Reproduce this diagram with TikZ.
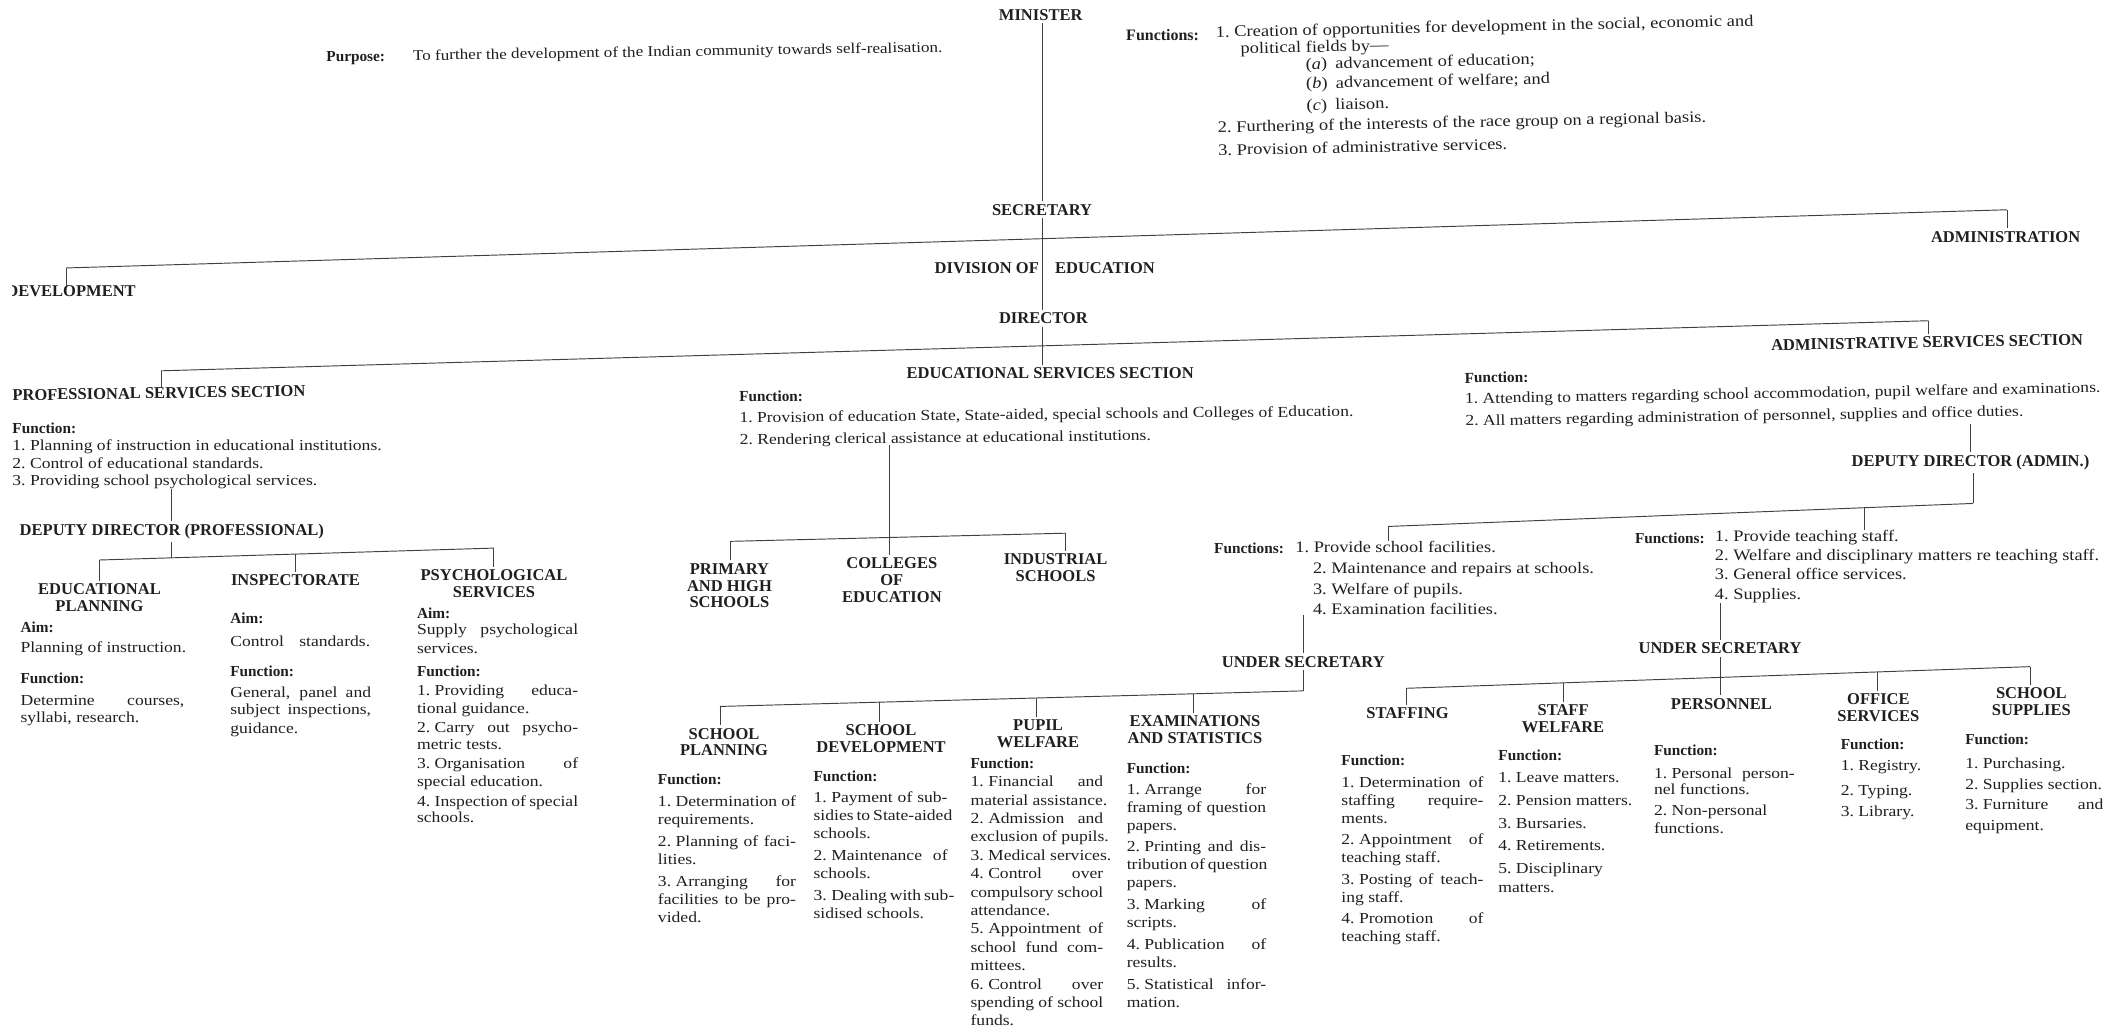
\documentclass[tikz,border=0pt]{standalone}
\usepackage{fontspec}
\setmainfont{Liberation Serif}[FakeStretch=1.15]
\newfontfamily\plainrm{Liberation Serif}
\newcommand\flab[1]{{\plainrm\bfseries #1}}
\newcommand\J[1]{\makebox[\colw][s]{#1}}
\newcommand\nm[1]{#1.\kern3.3pt}
\def\colw{100pt}
\tikzset{
  hd/.style={font=\plainrm\bfseries\fontsize{12.2}{12.5}\selectfont, inner sep=2pt, align=center, text=black!88},
  blk/.style={font=\fontsize{11.3}{13.3}\selectfont, inner sep=0pt, align=left, anchor=north west, text=black!88},
  cw/.style={execute at begin node={\def\colw{#1pt}}},
  lbl/.style={font=\plainrm\bfseries\fontsize{11.3}{13}\selectfont, inner sep=0pt, anchor=west, text=black!88},
  ln/.style={draw=black!75, line width=0.7pt}
}
\begin{document}
\begin{tikzpicture}[x=1pt,y=-1pt]
\useasboundingbox (0,0) rectangle (1568,759);
\clip (0,0) rectangle (1568,759);

% ---------- top ----------
\node[hd] (min) at (769,11) {MINISTER};
\node[lbl] (purl) at (241,43) {Purpose:};
\node[blk, anchor=west, font=\fontsize{11}{13}\selectfont, rotate=0.9] (purt) at (305,42) {To further the development of the Indian community towards self-realisation.};
\node[lbl, font=\plainrm\bfseries\fontsize{11.8}{13}\selectfont] (flab) at (832,26) {Functions:};
\node[blk, font=\fontsize{11.9}{12.5}\selectfont, rotate=1.2] (fl) at (898,19) {1.\ Creation of opportunities for development in the social, economic and\\
\hspace*{18pt}political fields by—\\
\hspace*{66pt}(\textit{a})\enspace advancement of education;\\[1.9pt]
\hspace*{66pt}(\textit{b})\enspace advancement of welfare; and\\[3.5pt]
\hspace*{66pt}(\textit{c})\enspace liaison.\\[2.5pt]
2.\ Furthering of the interests of the race group on a regional basis.\\[4.5pt]
3.\ Provision of administrative services.};

\node[hd] (sec) at (770,155) {SECRETARY};
\draw[ln] (min.south -| sec.north) -- (sec.north);

\coordinate (b1L) at (49,198);
\coordinate (b1R) at (1483,155);
\coordinate (b1C) at (770,176.4);
\draw[ln] (b1L) -- (b1R);
\draw[ln] (sec.south) -- (b1C);

\begin{scope}
\clip (9.5,190) rectangle (130,235);
\node[hd, anchor=west, inner sep=0pt] (dev) at (4.5,215.5) {DEVELOPMENT};
\end{scope}
\draw[ln] (b1L) -- (b1L |- dev.north);

\node[hd] (adm) at (1482,175) {ADMINISTRATION};
\draw[ln] (b1R) -- (b1R |- adm.north);

\node[hd] (div) at (772,198) {DIVISION OF\hspace{12pt}EDUCATION};
\node[hd] (dir) at (771,235) {DIRECTOR};
\draw[ln] (b1C) -- (b1C |- dir.north);

\coordinate (b2L) at (119,274);
\coordinate (b2R) at (1425,237);
\coordinate (b2C) at (770,255.6);
\draw[ln] (b2L) -- (b2R);
\draw[ln] (dir.south -| b2C) -- (b2C);

\node[hd] (ess) at (776,276) {EDUCATIONAL SERVICES SECTION};
\draw[ln] (b2C) -- (b2C |- ess.north);
\node[hd, anchor=west, inner sep=0pt, rotate=0.8] (pss) at (9,292) {PROFESSIONAL SERVICES SECTION};
\draw[ln] (b2L) -- (b2L |- pss.north);
\node[hd, rotate=1] (ass) at (1424,253) {ADMINISTRATIVE SERVICES SECTION};
\draw[ln] (b2R) -- (b2R |- ass.north);

% ---------- professional services ----------
\node[blk, font=\fontsize{11.3}{13}\selectfont] (pssF) at (9,312) {\flab{Function:}\\
1.\ Planning of instruction in educational institutions.\\
2.\ Control of educational standards.\\
3.\ Providing school psychological services.};
\node[hd] (ddp) at (127,393) {DEPUTY DIRECTOR (PROFESSIONAL)};
\draw[ln] (pssF.south -| ddp.north) -- (ddp.north);

\coordinate (b3L) at (73.5,413.8);
\coordinate (b3R) at (365,405);
\coordinate (b3C) at (127,412.2);
\coordinate (b3M) at (218.3,409.4);
\draw[ln] (b3L) -- (b3R);
\draw[ln] (ddp.south -| b3C) -- (b3C);
\node[hd, anchor=north] (ep) at (73.5,429) {EDUCATIONAL\\PLANNING};
\node[hd, anchor=north] (insp) at (218.3,422.6) {INSPECTORATE};
\node[hd, anchor=north] (psy) at (365,419) {PSYCHOLOGICAL\\SERVICES};
\draw[ln] (b3L) -- (b3L |- ep.north);
\draw[ln] (b3M) -- (b3M |- insp.north);
\draw[ln] (b3R) -- (b3R |- psy.north);

\node[blk, cw=121, font=\fontsize{11.3}{13}\selectfont] (epC) at (15,459) {\flab{Aim:}\\[2pt]
Planning of instruction.\\[10pt]
\flab{Function:}\\[3.6pt]
\J{Determine courses,}\\[-0.8pt]
syllabi, research.};
\node[blk, cw=104, font=\fontsize{11.3}{13}\selectfont] (inspC) at (170,453) {\flab{Aim:}\\[4pt]
Control\quad standards.\\[8.5pt]
\flab{Function:}\\[2.5pt]
\J{General, panel and}\\
\J{subject inspections,}\\[1pt]
guidance.};
\node[blk, cw=119, font=\fontsize{11.3}{13}\selectfont] (psyC) at (308,448.7) {\flab{Aim:}\\[-1.2pt]
\J{Supply psychological}\\[1.5pt]
services.\\[4pt]
\flab{Function:}\\[1pt]
\J{\nm{1}Providing educa-}\\
tional guidance.\\[1pt]
\J{\nm{2}Carry out psycho-}\\
metric tests.\\[1pt]
\J{\nm{3}Organisation of}\\
special education.\\[1.6pt]
\J{\nm{4}Inspection of special}\\[-0.6pt]
schools.};

% ---------- educational services ----------
\node[blk, rotate=0.6] (essF) at (546,289) {\flab{Function:}\\[2pt]
1.\ Provision of education State, State-aided, special schools and Colleges of Education.\\[3pt]
2.\ Rendering clerical assistance at educational institutions.};
\coordinate (b7L) at (540,400);
\coordinate (b7R) at (787,394);
\coordinate (b7C) at (657,397.2);
\draw[ln] (b7L) -- (b7R);
\draw[ln] (essF.south -| b7C) -- (b7C);
\node[hd, anchor=north] (phs) at (539,414) {PRIMARY\\AND HIGH\\SCHOOLS};
\node[hd, anchor=north] (coe) at (659,410) {COLLEGES\\OF\\EDUCATION};
\node[hd, anchor=north] (ind) at (780,407) {INDUSTRIAL\\SCHOOLS};
\draw[ln] (b7L) -- (b7L |- phs.north);
\draw[ln] (b7C) -- (b7C |- coe.north);
\draw[ln] (b7R) -- (b7R |- ind.north);

% ---------- administrative services ----------
\node[blk, rotate=1] (admF) at (1082,275) {\flab{Function:}\\[2pt]
1.\ Attending to matters regarding school accommodation, pupil welfare and examinations.\\[3pt]
2.\ All matters regarding administration of personnel, supplies and office duties.};
\node[hd] (ddA) at (1456,342) {DEPUTY DIRECTOR (ADMIN.)};
\draw[ln] (admF.south -| ddA.north) -- (ddA.north);

\coordinate (b4R) at (1458,372);
\coordinate (b4L) at (1026,389);
\coordinate (b4D) at (1378,375.1);
\draw[ln] (ddA.south -| b4R) -- (b4R);
\draw[ln] (b4L) -- (b4R);

\node[lbl] (lfl) at (897,405) {Functions:};
\node[blk, font=\fontsize{11.8}{15.3}\selectfont] (lf) at (957,400) {1.\ Provide school facilities.\\
\hspace*{13pt}2.\ Maintenance and repairs at schools.\\
\hspace*{13pt}3.\ Welfare of pupils.\\
\hspace*{13pt}4.\ Examination facilities.};
\draw[ln] (b4L) -- (b4L |- lf.north);
\node[hd] (usL) at (963,489) {UNDER SECRETARY};
\draw[ln] (lf.south -| usL.north) -- (usL.north);

\node[lbl] (rfl) at (1208,397.5) {Functions:};
\node[blk, font=\fontsize{11.8}{14.2}\selectfont] (rf) at (1267,391.6) {1.\ Provide teaching staff.\\
2.\ Welfare and disciplinary matters re teaching staff.\\
3.\ General office services.\\
4.\ Supplies.};
\draw[ln] (b4D) -- (b4D |- rf.north);
\node[hd] (usR) at (1271,479) {UNDER SECRETARY};
\draw[ln] (rf.south -| usR.north) -- (usR.north);

% ---------- under secretary (left) ----------
\coordinate (b5R) at (963,510.5);
\coordinate (b5L) at (532,522);
\coordinate (b5a) at (649.5,518.9);
\coordinate (b5b) at (766,515.8);
\coordinate (b5c) at (882,512.7);
\draw[ln] (usL.south -| b5R) -- (b5R);
\draw[ln] (b5L) -- (b5R);
\node[hd, anchor=north] (sp) at (535,535.8) {SCHOOL\\PLANNING};
\node[hd, anchor=north] (sd) at (651,533.5) {SCHOOL\\DEVELOPMENT};
\node[hd, anchor=north] (pw) at (767,529.7) {PUPIL\\WELFARE};
\node[hd, anchor=north] (es) at (883,526.5) {EXAMINATIONS\\AND STATISTICS};
\draw[ln] (b5L) -- (b5L |- sp.north);
\draw[ln] (b5a) -- (b5a |- sd.north);
\draw[ln] (b5b) -- (b5b |- pw.north);
\draw[ln] (b5c) -- (b5c |- es.north);

\node[blk, cw=102] (spC) at (486,572) {\flab{Function:}\\[2.5pt]
\J{\nm{1}Determination of}\\
requirements.\\[3pt]
\J{\nm{2}Planning of faci-}\\
lities.\\[3pt]
\J{\nm{3}Arranging for}\\
\J{facilities to be pro-}\\
vided.};
\node[blk, cw=99] (sdC) at (601,569.4) {\flab{Function:}\\[2.5pt]
\J{\nm{1}Payment of sub-}\\
\J{sidies to State-aided}\\
schools.\\[3pt]
\J{\nm{2}Maintenance of}\\
schools.\\[3pt]
\J{\nm{3}Dealing with sub-}\\
sidised schools.};
\node[blk, cw=98, font=\fontsize{11.3}{13.6}\selectfont] (pwC) at (717,559.6) {\flab{Function:}\\
\J{\nm{1}Financial and}\\
material assistance.\\
\J{\nm{2}Admission and}\\
exclusion of pupils.\\
3.\ Medical services.\\
\J{\nm{4}Control over}\\
\J{compulsory school}\\
attendance.\\
\J{\nm{5}Appointment of}\\
\J{school fund com-}\\
mittees.\\
\J{\nm{6}Control over}\\
\J{spending of school}\\
funds.};
\node[blk, cw=103] (esC) at (832.4,563.3) {\flab{Function:}\\[2.2pt]
\J{\nm{1}Arrange for}\\
\J{framing of question}\\
papers.\\[2.8pt]
\J{\nm{2}Printing and dis-}\\
\J{tribution of question}\\
papers.\\[2.8pt]
\J{\nm{3}Marking of}\\
scripts.\\[2.8pt]
\J{\nm{4}Publication of}\\
results.\\[2.8pt]
\J{\nm{5}Statistical infor-}\\
mation.};

% ---------- under secretary (right) ----------
\coordinate (b6L) at (1039,508.6);
\coordinate (b6R) at (1500,492.6);
\coordinate (b6a) at (1155,504.6);
\coordinate (b6b) at (1387,496.5);
\draw[ln] (b6L) -- (b6R);
\node[hd, anchor=north] (stf) at (1040,521) {STAFFING};
\node[hd, anchor=north] (stfw) at (1155,518.6) {STAFF\\WELFARE};
\node[hd, anchor=north] (pers) at (1272,513.7) {PERSONNEL};
\node[hd, anchor=north] (off) at (1388,510.6) {OFFICE\\SERVICES};
\node[hd, anchor=north] (ss) at (1501,505.8) {SCHOOL\\SUPPLIES};
\draw[ln] (usR.south) -- (usR.south |- pers.north);
\draw[ln] (b6L) -- (b6L |- stf.north);
\draw[ln] (b6a) -- (b6a |- stfw.north);
\draw[ln] (b6b) -- (b6b |- off.north);
\draw[ln] (b6R) -- (b6R |- ss.north);

\node[blk, cw=105, font=\fontsize{11.3}{13.5}\selectfont] (stfC) at (991,557.8) {\flab{Function:}\\[2.5pt]
\J{\nm{1}Determination of}\\
\J{staffing require-}\\
ments.\\[1.8pt]
\J{\nm{2}Appointment of}\\
teaching staff.\\[2.2pt]
\J{\nm{3}Posting of teach-}\\
ing staff.\\[2.2pt]
\J{\nm{4}Promotion of}\\
teaching staff.};
\node[blk, cw=103, font=\fontsize{11.3}{13.5}\selectfont] (stfwC) at (1107,554) {\flab{Function:}\\[2.5pt]
1.\ Leave matters.\\[3.6pt]
2.\ Pension matters.\\[3.6pt]
3.\ Bursaries.\\[3pt]
4.\ Retirements.\\[3.4pt]
5.\ Disciplinary\\
matters.};
\node[blk, cw=104, font=\fontsize{11.3}{13}\selectfont] (persC) at (1222,550.4) {\flab{Function:}\\[3.5pt]
\J{\nm{1}Personal person-}\\[-1pt]
nel functions.\\[2.8pt]
2.\ Non-personal\\
functions.};
\node[blk, font=\fontsize{11.3}{13}\selectfont] (offC) at (1360,546) {\flab{Function:}\\[2.5pt]
1.\ Registry.\\[5pt]
2.\ Typing.\\[3pt]
3.\ Library.};
\node[blk, cw=102, font=\fontsize{11.3}{13}\selectfont] (ssC) at (1452,541.8) {\flab{Function:}\\[4.7pt]
1.\ Purchasing.\\[2.5pt]
2.\ Supplies section.\\[2pt]
\J{\nm{3}Furniture and}\\[2.8pt]
equipment.};
\end{tikzpicture}
\end{document}
